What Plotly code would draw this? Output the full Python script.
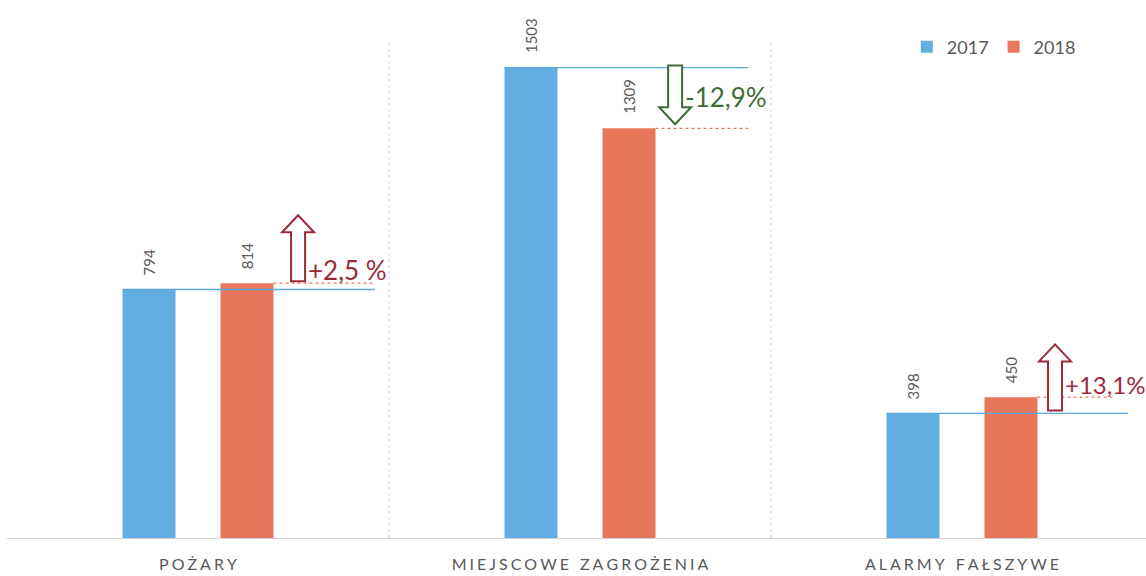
import plotly.graph_objects as go

categories = ["POŻARY", "MIEJSCOWE ZAGROŻENIA", "ALARMY FAŁSZYWE"]
values_2017 = [794, 1503, 398]
values_2018 = [814, 1309, 450]
pct_labels = ["+2,5 %", "-12,9%", "+13,1%"]

BLUE = "#62AEE2"
ORANGE = "#E8765A"
GRAY = "#595959"
RED = "#9A2A3A"
GREEN = "#3E6B35"

W, H = 1146, 576
ML, MR, MT, MB = 7, 0, 10, 38
cat_px = 382.0
plot_w = W - ML - MR
plot_h = H - MT - MB
px_per_unit = 0.313
ymax = plot_h / px_per_unit
xr = [-0.5, -0.5 + plot_w / cat_px]

def spaced(s):
    sep = "\u2009\u200a"
    return sep.join(list(s)).replace(sep + " " + sep, "\u2002" + sep)

xs = list(range(len(categories)))
bw = 53 / cat_px
off = 49 / cat_px

fig = go.Figure()
fig.add_trace(go.Bar(x=xs, y=values_2017, name="2017", width=bw, offset=-off - bw / 2,
                     marker=dict(color=BLUE, line=dict(width=0))))
fig.add_trace(go.Bar(x=xs, y=values_2018, name="2018", width=bw, offset=off - bw / 2,
                     marker=dict(color=ORANGE, line=dict(width=0))))

shapes = []
annotations = []
line_end = [0.463, 0.44, 0.435]
line_end_o = [0.463, 0.44, 0.40]
arrow_off = [0.262, 0.249, 0.2435]
pct_font = [26, 26, 24]
u = 1 / px_per_unit  # units per px
dx = 1 / cat_px      # x units per px
for i, (a, b) in enumerate(zip(values_2017, values_2018)):
    for v, c in ((a, -off), (b, off)):
        annotations.append(dict(x=i + c, y=v, text=str(v), showarrow=False, textangle=-90,
                                yanchor="bottom", xanchor="center", yshift=12,
                                font=dict(size=15, color=GRAY, family="Lato")))
    shapes.append(dict(type="line", x0=i - off - bw / 2, x1=i + line_end[i], y0=a, y1=a,
                       line=dict(color="#5AA8E0", width=1.3)))
    shapes.append(dict(type="line", x0=i + off + bw / 2, x1=i + line_end_o[i], y0=b, y1=b,
                       line=dict(color=ORANGE, width=1.3, dash="dot")))
    up = b > a
    col = RED if up else GREEN
    cx = i + arrow_off[i]
    sw = 7 * dx
    hw = 16 * dx
    head = 17 * u
    if up:
        base = (b + 2 * u) if i == 0 else (a + 3 * u)
        tip = base + 66 * u
        hb = tip - head
        path = (f"M {cx - sw},{base} L {cx - sw},{hb} L {cx - hw},{hb} L {cx},{tip} "
                f"L {cx + hw},{hb} L {cx + sw},{hb} L {cx + sw},{base} Z")
        ty = (b + 13 * u) if i == 0 else (a + 29 * u)
    else:
        top = a + 2 * u
        tip = b + 4 * u
        hb = tip + head
        path = (f"M {cx - sw},{top} L {cx - sw},{hb} L {cx - hw},{hb} L {cx},{tip} "
                f"L {cx + hw},{hb} L {cx + sw},{hb} L {cx + sw},{top} Z")
        ty = a - 29 * u
    shapes.append(dict(type="path", path=path, line=dict(color=col, width=2), fillcolor="white"))
    annotations.append(dict(x=cx + 8 * dx, y=ty, text=pct_labels[i], showarrow=False,
                            xanchor="left", yanchor="middle",
                            font=dict(size=pct_font[i], color=col, family="Lato")))

for d in (0.5, 1.5):
    shapes.append(dict(type="line", x0=d, x1=d, y0=0, y1=(538 - 40) * u,
                       line=dict(color="#D0D0D0", width=1, dash="dot"), layer="below"))

fig.update_layout(
    width=W, height=H,
    margin=dict(l=ML, r=MR, t=MT, b=MB, autoexpand=False),
    plot_bgcolor="white", paper_bgcolor="white",
    barmode="overlay",
    shapes=shapes, annotations=annotations,
    showlegend=True,
    legend=dict(orientation="h", x=0.79, y=0.93, xanchor="left", yanchor="middle",
                itemwidth=30,
                font=dict(size=18, color=GRAY, family="Lato"), bgcolor="rgba(0,0,0,0)"),
    xaxis=dict(range=xr, tickvals=xs, ticktext=[spaced(c) for c in categories],
               showgrid=False, zeroline=False, showline=True, linecolor="#D0D0D0",
               ticks="", ticklabelstandoff=12, automargin=False,
               tickfont=dict(size=16, color=GRAY, family="Lato")),
    yaxis=dict(range=[0, ymax], visible=False, showgrid=False, zeroline=False),
)

fig.write_html("out.html", config={"displayModeBar": False},
               post_script="document.body.style.margin='0';")
